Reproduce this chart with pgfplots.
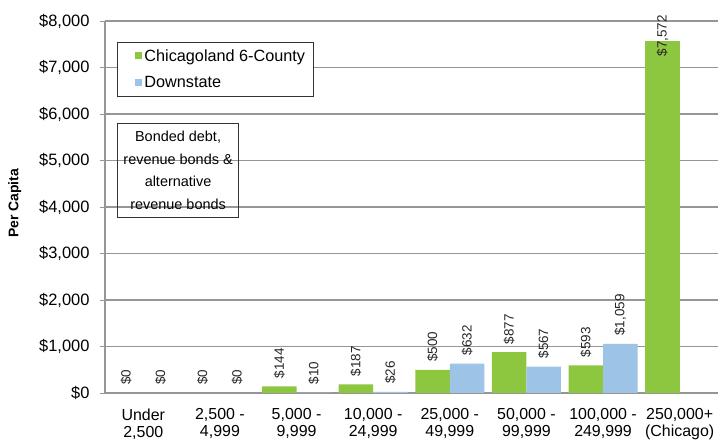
\documentclass[border=0pt]{standalone}
\usepackage{fontspec}
\setmainfont{Liberation Sans}
\usepackage{pgfplots}
\pgfplotsset{compat=1.18}
\definecolor{cgreen}{RGB}{141,198,63}
\definecolor{cblue}{RGB}{157,195,230}
\definecolor{gridc}{RGB}{150,150,150}
\pgfplotsset{/pgf/number format/assume math mode=true}
\begin{document}
\begin{tikzpicture}
\useasboundingbox (-105bp,-54bp) rectangle (613bp,393bp);
\begin{axis}[
  scale only axis, width=613bp, height=372bp,
  at={(0,0)}, anchor=south west,
  xmin=-0.5, xmax=7.5, ymin=0, ymax=8000,
  ybar, bar width=34.5bp,
  ytick={0,1000,...,8000},
  yticklabel={\$\pgfmathprintnumber[fixed,precision=0,1000 sep={,}]{\tick}},
  yticklabel style={font=\fontsize{16.5}{18}\selectfont, xshift=-7bp},
  xtick={0,...,7},
  xticklabels={{Under\\2,500},{2,500 -\\4,999},{5,000 -\\9,999},{10,000 -\\24,999},{25,000 -\\49,999},{50,000 -\\99,999},{100,000 -\\249,999},{250,000+\\(Chicago)}},
  xticklabel style={align=center, font=\fontsize{16}{17}\selectfont, yshift=-7bp},
  x tick style={draw=none},
  extra x ticks={0.5,1.5,2.5,3.5,4.5,5.5,6.5},
  extra x tick labels={},
  extra x tick style={tick style={draw=gridc, line width=1bp}, major tick length=4bp, tick align=outside, xmajorgrids=false},
  y tick style={draw=gridc, line width=1bp},
  tick align=outside, major tick length=5bp,
  ymajorgrids, grid style={gridc, line width=1.1bp},
  axis x line*=bottom, axis y line*=left,
  axis line style={gridc, line width=1.1bp},
  ylabel={\textbf{Per Capita}},
  ylabel style={at={(rel axis cs:-0.147,0.51)}, anchor=center, font=\fontsize{14}{16}\selectfont},
  nodes near coords={\$\pgfmathprintnumber[fixed,precision=0,1000 sep={,}]{\pgfplotspointmeta}},
  every node near coord/.append style={rotate=90, anchor=west, font=\fontsize{13.5}{15}\selectfont, inner sep=0pt, xshift=8bp, text=black!85},
  legend style={at={(0.0196,0.944)}, anchor=north west, draw=black!80, line width=0.9bp,
    font=\fontsize{16.3}{18}\selectfont, inner xsep=6bp, inner ysep=5bp, row sep=10bp,
    cells={anchor=west}},
]
\addplot[fill=cgreen, draw=none, bar shift=-17.25bp,
  legend image code/.code={\path (0bp,0bp); \fill[cgreen] (12bp,-3.5bp) rectangle (19bp,3.5bp);}]
  coordinates {(0,0) (1,0) (2,144) (3,187) (4,500) (5,877) (6,593)};
\addplot[fill=cblue, draw=none, bar shift=17.25bp,
  legend image code/.code={\path (0bp,0bp); \fill[cblue] (12bp,-3.5bp) rectangle (19bp,3.5bp);}]
  coordinates {(0,0) (1,0) (2,10) (3,26) (4,632) (5,567) (6,1059)};
\addplot[fill=cgreen, draw=none, bar shift=-17.25bp, forget plot,
  every node near coord/.append style={anchor=center, xshift=-3bp}]
  coordinates {(7,7572)};
\legend{Chicagoland 6-County, Downstate}
\node[draw=black!80, line width=0.9bp, align=center, anchor=north west,
  font=\fontsize{14.5}{22.5}\selectfont, inner xsep=6bp, inner ysep=8bp]
  at (rel axis cs:0.0196,0.726) {Bonded debt,\\revenue bonds \&\\alternative\\revenue bonds};
\end{axis}
\end{tikzpicture}
\end{document}
